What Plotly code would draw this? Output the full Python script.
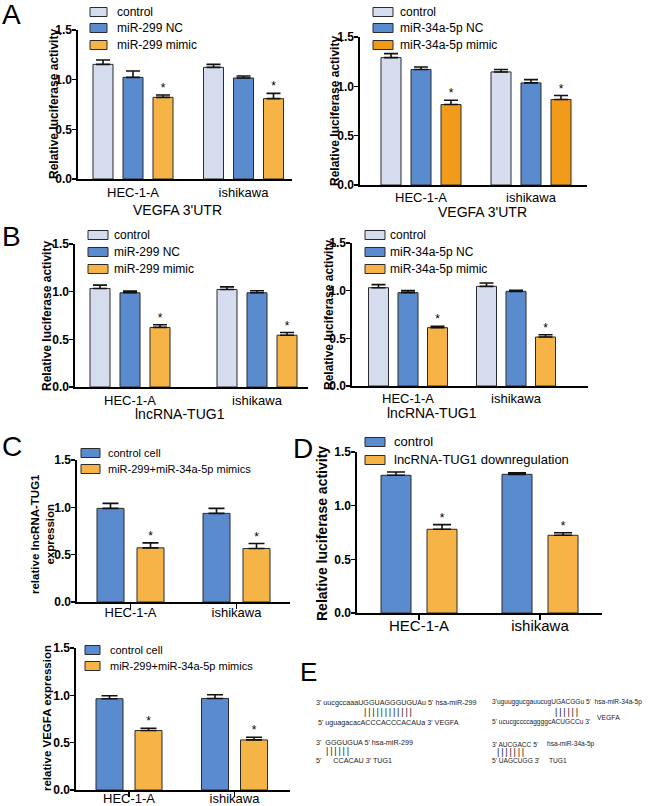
import plotly.graph_objects as go

W, H = 650, 806
FONT = "Arial, Liberation Sans, sans-serif"

# ---------------- data ----------------
cells = ["HEC-1-A", "ishikawa"]
y_ticks = [0.0, 0.5, 1.0, 1.5]

a1_series = ["control", "miR-299 NC", "miR-299 mimic"]
a1_vals = [[1.154, 1.124], [1.023, 1.017], [0.822, 0.809]]
a1_errs = [[0.044, 0.030], [0.064, 0.020], [0.024, 0.053]]
a1_sig = ["", "", "*"]

a2_series = ["control", "miR-34a-5p NC", "miR-34a-5p mimic"]
a2_vals = [[1.291, 1.146], [1.170, 1.035], [0.816, 0.866]]
a2_errs = [[0.040, 0.024], [0.026, 0.033], [0.043, 0.041]]
a2_sig = ["", "", "*"]

b1_series = ["control", "miR-299 NC", "miR-299 mimic"]
b1_vals = [[1.034, 1.023], [0.988, 0.988], [0.625, 0.543]]
b1_errs = [[0.035, 0.027], [0.018, 0.022], [0.028, 0.028]]
b1_sig = ["", "", "*"]

b2_series = ["control", "miR-34a-5p NC", "miR-34a-5p mimic"]
b2_vals = [[1.031, 1.045], [0.979, 0.993], [0.612, 0.514]]
b2_errs = [[0.032, 0.035], [0.021, 0.010], [0.014, 0.024]]
b2_sig = ["", "", "*"]

c1_series = ["control cell", "miR-299+miR-34a-5p mimics"]
c1_vals = [[0.989, 0.936], [0.572, 0.565]]
c1_errs = [[0.053, 0.053], [0.053, 0.053]]
c1_sig = ["", "*"]

c2_series = ["control cell", "miR-299+miR-34a-5p mimics"]
c2_vals = [[0.964, 0.967], [0.628, 0.529]]
c2_errs = [[0.031, 0.039], [0.025, 0.029]]
c2_sig = ["", "*"]

d_series = ["control", "lncRNA-TUG1 downregulation"]
d_vals = [[1.283, 1.292], [0.780, 0.724]]
d_errs = [[0.031, 0.015], [0.043, 0.024]]
d_sig = ["", "*"]

e_left = [
    "3' uucgccaaaUGGUAGGGUGUAu 5' hsa-miR-299",
    "5' uguagacacACCCACCCACAUa 3' VEGFA",
    "3'  GGGUGUA 5' hsa-miR-299",
    "5'      CCACAU 3' TUG1",
]
e_right = [
    "3'uguuggucgauucugUGACGGu 5'  hsa-miR-34a-5p",
    "5' ucucgccccaggggcACUGCCu 3'",
    "3' AUCGACC 5'",
    "5' UAGCUGG 3'",
]
e_right_labels = ["VEGFA", "hsa-miR-34a-5p", "TUG1"]
e_pairs = [12, 6, 6, 7]

# ---------------- styles ----------------
C_LIGHT = "#D4DCEE"
C_BLUE = "#5A8BCF"
C_ORANGE = "#F6B446"
C_ORANGE2 = "#F29B1A"
OUTLINE = "#2a2a2a"

panels = [
    dict(series=a1_series, vals=a1_vals, errs=a1_errs, sig=a1_sig,
         colors=[C_LIGHT, C_BLUE, C_ORANGE],
         geo=dict(x0=78, x1=292, y0=30, y1=179, c0=133, unit=110.5, bw=20, slot=30, cap=7),
         ticks=False, tfs=13, stand=1,
         ytitle=("Relative luciferase activity", 54, 104, 12),
         xtitle=("VEGFA 3'UTR", 177, 210),
         leg=dict(bx0=90, bx1=107, rows=[12, 28, 45], tx=115, bh=9, fs=12)),
    dict(series=a2_series, vals=a2_vals, errs=a2_errs, sig=a2_sig,
         colors=[C_LIGHT, C_BLUE, C_ORANGE2],
         geo=dict(x0=360, x1=587, y0=37, y1=185, c0=421, unit=110, bw=20, slot=30, cap=7),
         ticks=False, tfs=13, stand=0,
         ytitle=("Relative luciferase activity", 335, 111, 12),
         xtitle=("VEGFA 3'UTR", 482, 212),
         leg=dict(bx0=373, bx1=393, rows=[12, 28, 45], tx=398, bh=9, fs=12)),
    dict(series=b1_series, vals=b1_vals, errs=b1_errs, sig=b1_sig,
         colors=[C_LIGHT, C_BLUE, C_ORANGE],
         geo=dict(x0=75, x1=308, y0=244, y1=387, c0=130, unit=127, bw=20, slot=30, cap=7),
         ticks=False, tfs=13, stand=1,
         ytitle=("Relative luciferase activity", 47, 316, 12),
         xtitle=("lncRNA-TUG1", 180, 414),
         leg=dict(bx0=88, bx1=108, rows=[235, 252, 269], tx=112, bh=9, fs=12)),
    dict(series=b2_series, vals=b2_vals, errs=b2_errs, sig=b2_sig,
         colors=[C_LIGHT, C_BLUE, C_ORANGE],
         geo=dict(x0=352, x1=588, y0=243, y1=386, c0=408, unit=108, bw=20, slot=29.5, cap=7),
         ticks=False, tfs=13, stand=0,
         ytitle=("Relative luciferase activity", 329, 315, 12),
         xtitle=("lncRNA-TUG1", 432, 413),
         leg=dict(bx0=365, bx1=385, rows=[235, 252, 269], tx=388, bh=9, fs=12)),
    dict(series=c1_series, vals=c1_vals, errs=c1_errs, sig=c1_sig,
         colors=[C_BLUE, C_ORANGE],
         geo=dict(x0=77, x1=290, y0=460, y1=602, c0=130.5, unit=106, bw=27, slot=40, cap=8),
         ticks=True, tfs=13, stand=-7,
         ytitle=("relative lncRNA-TUG1<br>expression", 42, 534, 11.5),
         xtitle=None,
         leg=dict(bx0=81, bx1=100, rows=[453, 469], tx=106, bh=9, fs=11)),
    dict(series=c2_series, vals=c2_vals, errs=c2_errs, sig=c2_sig,
         colors=[C_BLUE, C_ORANGE],
         geo=dict(x0=76, x1=290, y0=648, y1=790, c0=129, unit=105.5, bw=27, slot=39, cap=8),
         ticks=True, tfs=13, stand=-9,
         ytitle=("relative VEGFA expression", 47, 718, 11.5),
         xtitle=None,
         leg=dict(bx0=85, bx1=100, rows=[650, 666], tx=108, bh=9, fs=11)),
    dict(series=d_series, vals=d_vals, errs=d_errs, sig=d_sig,
         colors=[C_BLUE, C_ORANGE],
         geo=dict(x0=357, x1=602, y0=452, y1=613, c0=419, unit=121, bw=30, slot=46, cap=9),
         ticks=True, tfs=15, stand=-7,
         ytitle=("Relative luciferase activity", 322, 534, 14),
         xtitle=None,
         leg=dict(bx0=365, bx1=385, rows=[442, 460], tx=392, bh=9, fs=13)),
]


def px(x):
    return x / W


def py(y):
    return 1 - y / H


fig = go.Figure()
layout = dict(
    width=W, height=H, margin=dict(l=0, r=0, t=0, b=0, pad=0, autoexpand=False),
    paper_bgcolor="white", plot_bgcolor="white",
    barmode="overlay", showlegend=False,
    font=dict(family=FONT, color="black"),
)
shapes = []
annotations = []

for k, p in enumerate(panels, start=1):
    g = p["geo"]
    xa = "x" if k == 1 else f"x{k}"
    ya = "y" if k == 1 else f"y{k}"
    unit = g["unit"]
    n = len(p["series"])
    for j, name in enumerate(p["series"]):
        off = (j - (n - 1) / 2) * g["slot"] / unit
        xs = [i + off for i in range(len(cells))]
        fig.add_trace(go.Bar(
            x=xs, y=p["vals"][j], width=g["bw"] / unit, name=name,
            marker=dict(color=p["colors"][j], line=dict(color=OUTLINE, width=1)),
            error_y=dict(type="data", array=p["errs"][j], arrayminus=[0] * len(cells),
                         symmetric=False, color="#111", thickness=1.6, width=g["cap"]),
            xaxis=xa, yaxis=ya, hoverinfo="skip",
        ))
        if p["sig"][j]:
            fig.add_trace(go.Scatter(
                x=xs, y=[v + e for v, e in zip(p["vals"][j], p["errs"][j])],
                mode="text", text=[p["sig"][j]] * len(cells),
                textposition="top center",
                textfont=dict(size=12, family=FONT, color="black"),
                xaxis=xa, yaxis=ya, hoverinfo="skip",
            ))
    xkey = "xaxis" if k == 1 else f"xaxis{k}"
    ykey = "yaxis" if k == 1 else f"yaxis{k}"
    layout[xkey] = dict(
        domain=[px(g["x0"]), px(g["x1"])],
        range=[(g["x0"] - g["c0"]) / unit, (g["x1"] - g["c0"]) / unit],
        tickvals=list(range(len(cells))), ticktext=cells,
        showline=True, linecolor="black", linewidth=1.6,
        ticks="outside" if p["ticks"] else "", ticklen=5, tickwidth=1.5,
        tickcolor="black", ticklabelstandoff=p["stand"],
        tickfont=dict(size=p["tfs"], family=FONT, color="black"),
        showgrid=False, zeroline=False, anchor=ya, fixedrange=True, automargin=False,
    )
    layout[ykey] = dict(
        domain=[py(g["y1"]), py(g["y0"])],
        range=[0, 1.5], tickvals=y_ticks,
        ticktext=[f"{t:.1f}" for t in y_ticks],
        showline=True, linecolor="black", linewidth=1.6,
        ticks="outside", ticklen=4, tickwidth=1.5, tickcolor="black",
        ticklabelstandoff=-2,
        tickfont=dict(size=12, family=FONT, color="black", weight="bold"),
        showgrid=False, zeroline=False, anchor=xa, fixedrange=True, automargin=False,
    )
    # y title
    t, tx, ty, fs = p["ytitle"]
    annotations.append(dict(
        text=t, x=px(tx), y=py(ty), xref="paper", yref="paper",
        xanchor="center", yanchor="middle", textangle=-90, showarrow=False,
        font=dict(size=fs, family=FONT, color="black", weight="bold"),
    ))
    if p["xtitle"]:
        t, tx, ty = p["xtitle"]
        annotations.append(dict(
            text=t, x=px(tx), y=py(ty), xref="paper", yref="paper",
            xanchor="center", yanchor="middle", showarrow=False,
            font=dict(size=14, family=FONT, color="black"),
        ))
    lg = p["leg"]
    for j, name in enumerate(p["series"]):
        ry = lg["rows"][j]
        shapes.append(dict(
            type="rect", xref="paper", yref="paper",
            x0=px(lg["bx0"]), x1=px(lg["bx1"]),
            y0=py(ry + lg["bh"] / 2), y1=py(ry - lg["bh"] / 2),
            fillcolor=p["colors"][j], line=dict(color=OUTLINE, width=1),
        ))
        annotations.append(dict(
            text=name, x=px(lg["tx"]), y=py(ry), xref="paper", yref="paper",
            xanchor="left", yanchor="middle", showarrow=False,
            font=dict(size=lg["fs"], family=FONT, color="black"),
        ))

# panel letters
for letter, lx, ly, fs in [("A", 11, 14, 28), ("B", 11, 236, 28), ("C", 12, 446, 28),
                           ("D", 303, 448, 28), ("E", 308, 672, 26)]:
    annotations.append(dict(
        text=letter, x=px(lx), y=py(ly), xref="paper", yref="paper",
        xanchor="center", yanchor="middle", showarrow=False,
        font=dict(size=fs, family=FONT, color="black"),
    ))


def seq(text, x, y, fs=7.2):
    annotations.append(dict(
        text=text, x=px(x), y=py(y), xref="paper", yref="paper",
        xanchor="left", yanchor="middle", showarrow=False,
        font=dict(size=fs, family=FONT, color="#222"),
    ))


def pairs(nb, x, y):
    seq("\u2009".join(["|"] * nb), x, y, fs=9)


seq(e_left[0], 314, 702)
pairs(e_pairs[0], 362, 712)
seq(e_left[1], 316, 722)
seq(e_left[2], 314, 742)
pairs(e_pairs[1], 324, 751)
seq(e_left[3], 314, 760)

seq(e_right[0], 490, 702, fs=6.6)
pairs(e_pairs[2], 553, 712)
seq(e_right[1], 490, 722, fs=6.6)
seq(e_right_labels[0], 595, 717, fs=6.8)
seq(e_right[2], 490, 744, fs=6.6)
seq(e_right_labels[1], 545, 744, fs=6.6)
pairs(e_pairs[3], 495, 752)
seq(e_right[3], 490, 760, fs=6.6)
seq(e_right_labels[2], 547, 760, fs=6.6)

layout["shapes"] = shapes
layout["annotations"] = annotations
fig.update_layout(**layout)
fig.write_html(
    "out.html",
    config={"displayModeBar": False, "staticPlot": True},
    post_script="document.body.style.margin='0';document.body.style.overflow='hidden';",
)
